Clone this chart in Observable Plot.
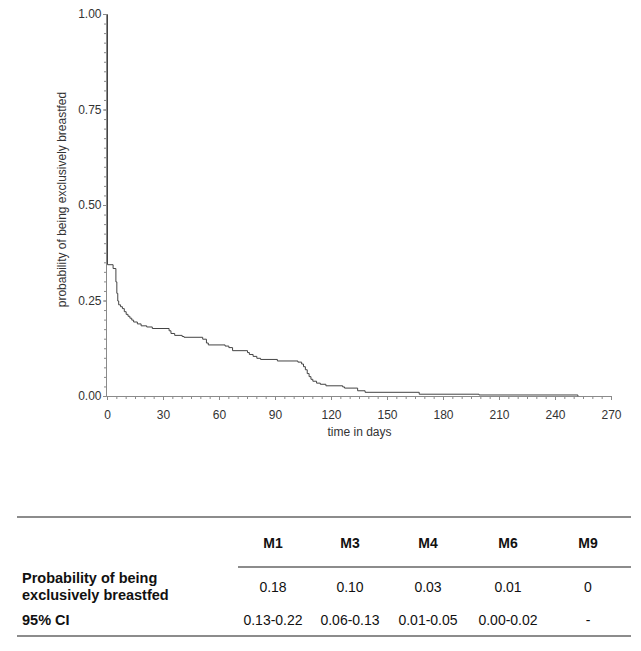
<!DOCTYPE html>
<html>
<head>
<meta charset="utf-8">
<script src="https://cdn.jsdelivr.net/npm/d3@7"></script>
<script src="https://cdn.jsdelivr.net/npm/@observablehq/plot@0.6"></script>
<style>
  html, body { margin: 0; padding: 0; background: #fff; }
  body { width: 641px; height: 651px; position: relative; font-family: Arial, "Liberation Sans", sans-serif; overflow: hidden; }
  #chart { position: absolute; left: 0; top: 0; }
  #tbl { position: absolute; left: 0; top: 0; width: 641px; height: 651px; }
  .rule { position: absolute; height: 0; border-top: 2px solid #8c8c8c; }
  .cell { position: absolute; font-size: 14px; color: #111; transform: translate(-50%, -50%); white-space: nowrap; }
  .hdr { font-weight: bold; }
  .rowlab { position: absolute; font-size: 14.5px; font-weight: bold; color: #111; line-height: 17px; white-space: nowrap; transform: translateY(-50%); }
</style>
</head>
<body>
<div id="chart"></div>
<div id="tbl"></div>
<script>
// ---- Kaplan-Meier step data ----
const days = [0, 0, 3, 4.5, 5, 5.5, 6, 7, 8, 9, 10, 11, 12, 13, 14, 16, 18, 21, 24, 33, 34, 36, 40, 41, 51, 53, 54, 63, 65, 67, 75, 76, 78, 80, 82, 91, 102, 104, 105, 106, 107, 108, 109, 110, 112, 114, 117, 126, 127, 134, 138, 167, 199, 251, 252];
const survival = [1.0, 0.345, 0.335, 0.30, 0.27, 0.25, 0.24, 0.235, 0.23, 0.222, 0.215, 0.21, 0.205, 0.20, 0.195, 0.19, 0.185, 0.182, 0.178, 0.172, 0.165, 0.16, 0.157, 0.155, 0.15, 0.14, 0.135, 0.132, 0.128, 0.12, 0.115, 0.11, 0.105, 0.10, 0.097, 0.093, 0.09, 0.085, 0.078, 0.07, 0.06, 0.052, 0.045, 0.04, 0.035, 0.032, 0.028, 0.025, 0.022, 0.015, 0.011, 0.006, 0.004, 0.004, 0.0015];

const xMajorTicks = [0, 30, 60, 90, 120, 150, 180, 210, 240, 270];
const xMinorTicks = d3.range(0, 271, 5);
const yMajorTicks = [0, 0.25, 0.5, 0.75, 1.0];
const yMinorTicks = d3.range(0, 1.0001, 0.025);
const xTitle = "time in days";
const yTitle = "probability of being exclusively breastfed";

// ---- table data ----
const colHeaders = ["M1", "M3", "M4", "M6", "M9"];
const probValues = ["0.18", "0.10", "0.03", "0.01", "0"];
const ciValues = ["0.13-0.22", "0.06-0.13", "0.01-0.05", "0.00-0.02", "-"];
const rowLabels = ["Probability of being\nexclusively breastfed", "95% CI"];

const kmData = days.map((d, i) => ({day: d, p: survival[i]}));

const axisColor = "#8a8a8a";
const chart = Plot.plot({
  width: 641,
  height: 452,
  marginLeft: 107,
  marginRight: 30,
  marginTop: 14,
  marginBottom: 56,
  style: {fontFamily: "Arial, 'Liberation Sans', sans-serif", fontSize: "12px", color: "#333", background: "#fff"},
  x: {domain: [0, 270]},
  y: {domain: [0, 1]},
  marks: [
    Plot.axisX({ticks: xMinorTicks, tickSize: 3, text: null, stroke: axisColor, label: null}),
    Plot.axisX({ticks: xMajorTicks, tickSize: 4, tickPadding: 10, tickFormat: d3.format("d"), stroke: axisColor, fill: "#333", label: null}),
    Plot.axisY({ticks: yMinorTicks, tickSize: 3, text: null, stroke: axisColor, label: null}),
    Plot.axisY({ticks: yMajorTicks, tickSize: 4, tickPadding: 2, tickFormat: d3.format(".2f"), stroke: axisColor, fill: "#333", label: null}),
    Plot.ruleY([0], {stroke: axisColor}),
    Plot.ruleX([0], {stroke: axisColor, dx: -1}),
    Plot.line(kmData, {x: "day", y: "p", curve: "step-after", stroke: "#444", strokeWidth: 1}),
    Plot.text([xTitle], {frameAnchor: "bottom", dy: 39, fill: "#333", fontSize: 12}),
    Plot.text([yTitle], {frameAnchor: "left", textAnchor: "middle", rotate: -90, dx: -45, dy: -6, fill: "#333", fontSize: 12})
  ]
});
document.getElementById("chart").appendChild(chart);

// ---- table ----
const tbl = document.getElementById("tbl");
const colX = [273, 350, 428, 508, 588];
function rule(x1, x2, y) {
  const r = document.createElement("div");
  r.className = "rule";
  r.style.left = x1 + "px"; r.style.width = (x2 - x1) + "px"; r.style.top = (y - 1) + "px";
  tbl.appendChild(r);
}
function cell(text, x, y, cls) {
  const c = document.createElement("div");
  c.className = "cell" + (cls ? " " + cls : "");
  c.style.left = x + "px"; c.style.top = y + "px";
  c.textContent = text;
  tbl.appendChild(c);
}
rule(17, 631, 517);
rule(238, 631, 567);
rule(17, 631, 636);
colHeaders.forEach((h, i) => cell(h, colX[i], 543, "hdr"));
probValues.forEach((v, i) => cell(v, colX[i], 587));
ciValues.forEach((v, i) => cell(v, colX[i], 620));
rowLabels.forEach((lab, i) => {
  const d = document.createElement("div");
  d.className = "rowlab";
  d.style.left = "22px";
  d.style.top = (i === 0 ? 587 : 620) + "px";
  d.innerHTML = lab.split("\n").join("<br>");
  tbl.appendChild(d);
});
</script>
</body>
</html>
